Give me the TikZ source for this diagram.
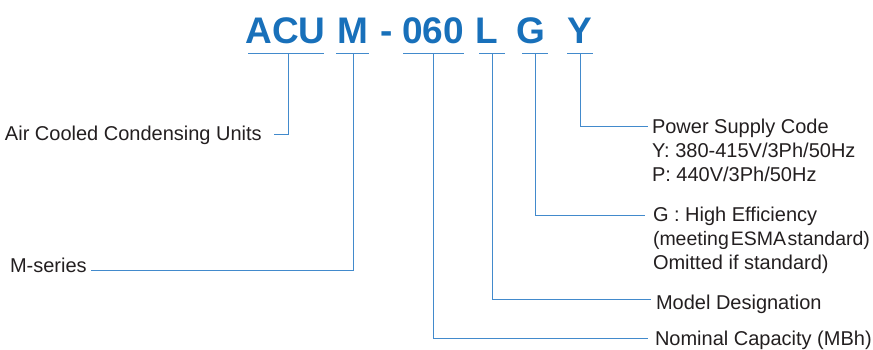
\documentclass[tikz,border=0pt]{standalone}
\usepackage{fontspec}
\setmainfont{Liberation Sans}
\definecolor{codeblue}{RGB}{24,112,186}
\definecolor{leadblue}{RGB}{66,138,204}
\definecolor{labelgray}{RGB}{35,31,32}
\begin{document}
\begin{tikzpicture}[x=1pt, y=-1pt,
  every node/.style={inner sep=0pt, outer sep=0pt},
  code/.style={font=\fontsize{37}{40}\selectfont\bfseries, text=codeblue, anchor=base},
  label/.style={font=\fontsize{20}{24}\selectfont, text=labelgray, anchor=base west, align=left},
  lead/.style={leadblue, line width=0.9pt}]
  \useasboundingbox (0,0) rectangle (873,349);
  % Model code
  \node[code] (acu) at (285.5,43) {ACU};
  \node[code] (ser) at (352.5,43) {M};
  \node[code] (dash) at (386.5,43) {-};
  \node[code] (cap) at (433,43) {060};
  \node[code] (des) at (487,43) {L};
  \node[code] (eff) at (531,43) {G};
  \node[code] (pwr) at (580,43) {Y};
  % Underlines
  \draw[lead] (248,53) -- (324,53);
  \draw[lead] (336,53) -- (369,53);
  \draw[lead] (403,53) -- (464,53);
  \draw[lead] (479,53) -- (505,53);
  \draw[lead] (522,53) -- (548,53);
  \draw[lead] (567,53) -- (593,53);
  \coordinate (uacu) at (288,53);
  \coordinate (user) at (353,53);
  \coordinate (ucap) at (433,53);
  \coordinate (udes) at (492,53);
  \coordinate (ueff) at (535,53);
  \coordinate (upwr) at (580,53);
  % Left labels
  \node[label] (acutxt) at (5,140) {Air Cooled Condensing Units};
  \node[label] (sertxt) at (10,272) {M-series};
  \coordinate (eacu) at (274,134);
  \coordinate (eser) at (91,270);
  % Right labels (base = last line)
  \node[label] (pwrtxt) at (652,181) {Power Supply Code\\Y: 380-415V/3Ph/50Hz\\P: 440V/3Ph/50Hz};
  \node[label] (efftxt) at (653,269) {G : High Efficiency\\{\fontsize{19.5}{24}\selectfont(meeting\kern2pt ESMA\kern1.5pt standard)}\\Omitted if standard)};
  \node[label] (destxt) at (656,309) {Model Designation};
  \node[label] (captxt) at (655,345) {Nominal Capacity (MBh)};
  \coordinate (epwr) at (648,126);
  \coordinate (eeff) at (645,215);
  \coordinate (edes) at (651,299);
  \coordinate (ecap) at (648,338);
  % Leaders
  \draw[lead] (uacu) |- (eacu);
  \draw[lead] (user) |- (eser);
  \draw[lead] (ucap) |- (ecap);
  \draw[lead] (udes) |- (edes);
  \draw[lead] (ueff) |- (eeff);
  \draw[lead] (upwr) |- (epwr);
\end{tikzpicture}
\end{document}
